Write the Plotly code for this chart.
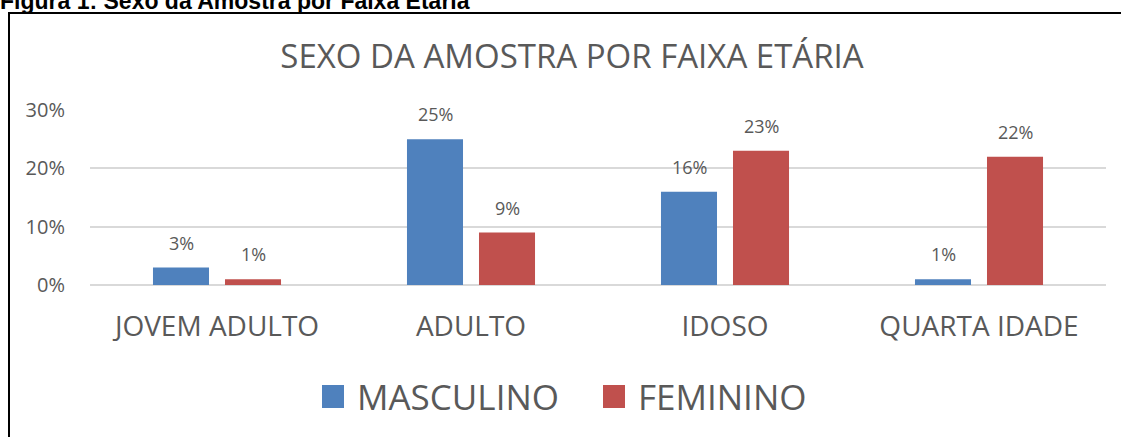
import plotly.graph_objects as go

# ── Data ─────────────────────────────────────────────────────────────────────
categorias = ["JOVEM ADULTO", "ADULTO", "IDOSO", "QUARTA IDADE"]
masculino = [3, 25, 16, 1]
feminino = [1, 9, 23, 22]
series = ["MASCULINO", "FEMININO"]
y_ticks = [0, 10, 20, 30]
y_tick_labels = ["0%", "10%", "20%", "30%"]

AZUL = "#4F81BD"
VERMELHO = "#C0504D"
CINZA = "#595959"
FONTE = "Open Sans"

W, H = 1121, 437
ML, MR, MT, MB = 90, 15, 110, 152
PW, PH = W - ML - MR, H - MT - MB


def px_x(px):
    return (px - ML) / PW


def px_y(py):
    return (H - MB - py) / PH


fig = go.Figure()
for nome, vals, cor, dx in [(series[0], masculino, AZUL, -36),
                            (series[1], feminino, VERMELHO, 36)]:
    fig.add_trace(go.Bar(
        x=categorias, y=vals, name=nome,
        marker=dict(color=cor, line=dict(width=0)),
        showlegend=False,
    ))
    # data labels, floating above each bar
    for cat, v in zip(categorias, vals):
        fig.add_annotation(
            x=cat, y=v, text=f"{v}%", showarrow=False,
            xshift=dx, yshift=25, yanchor="middle",
            font=dict(family=FONTE, size=18, color=CINZA),
        )

# legend drawn by hand (Excel-style large squares)
for nome, cor, sq_x in [(series[0], AZUL, 322), (series[1], VERMELHO, 603)]:
    fig.add_shape(type="rect", xref="paper", yref="paper",
                  x0=px_x(sq_x), x1=px_x(sq_x + 22), y0=px_y(408), y1=px_y(385),
                  fillcolor=cor, line=dict(width=0))
    fig.add_annotation(
        text=nome, xref="paper", yref="paper", x=px_x(sq_x + 33), y=px_y(396),
        xanchor="left", yanchor="middle", showarrow=False,
        font=dict(family=FONTE, size=35, color=CINZA),
    )

# frame around the figure (left and top edges visible)
fig.add_shape(type="line", xref="paper", yref="paper",
              x0=px_x(8), x1=px_x(1125), y0=px_y(13), y1=px_y(13),
              line=dict(color="black", width=2))
fig.add_shape(type="line", xref="paper", yref="paper",
              x0=px_x(9), x1=px_x(9), y0=px_y(13), y1=px_y(440),
              line=dict(color="black", width=2))

# caption above the frame, partly cut off
fig.add_annotation(
    text="<b>Figura 1: Sexo da Amostra por Faixa Etária</b>",
    xref="paper", yref="paper", x=px_x(-2), y=px_y(16),
    xanchor="left", yanchor="bottom", showarrow=False,
    font=dict(family="Liberation Sans", size=23, color="black"),
)

fig.update_layout(
    width=W, height=H,
    margin=dict(l=ML, r=MR, t=MT, b=MB),
    paper_bgcolor="white", plot_bgcolor="white",
    title=dict(text="SEXO DA AMOSTRA POR FAIXA ETÁRIA", x=572 / W,
               xanchor="center", y=1 - 56 / H, yanchor="middle",
               font=dict(family=FONTE, size=33, color=CINZA)),
    barmode="group", bargap=0.433, bargroupgap=0.222,
    font=dict(family=FONTE, color=CINZA),
    showlegend=False,
    xaxis=dict(showgrid=False, showline=False, ticks="", ticklabelstandoff=22,
               tickfont=dict(family=FONTE, size=28, color=CINZA)),
    yaxis=dict(range=[0, 30], tickvals=y_ticks, ticktext=y_tick_labels,
               showgrid=True, gridcolor="#D9D9D9", gridwidth=1.5,
               zeroline=True, zerolinecolor="#D9D9D9", zerolinewidth=1.5,
               showline=False, ticks="", ticklabelstandoff=24,
               tickfont=dict(family=FONTE, size=20, color=CINZA)),
)

fig.write_html("out.html", config={"displayModeBar": False},
               post_script="document.body.style.margin='0';")
